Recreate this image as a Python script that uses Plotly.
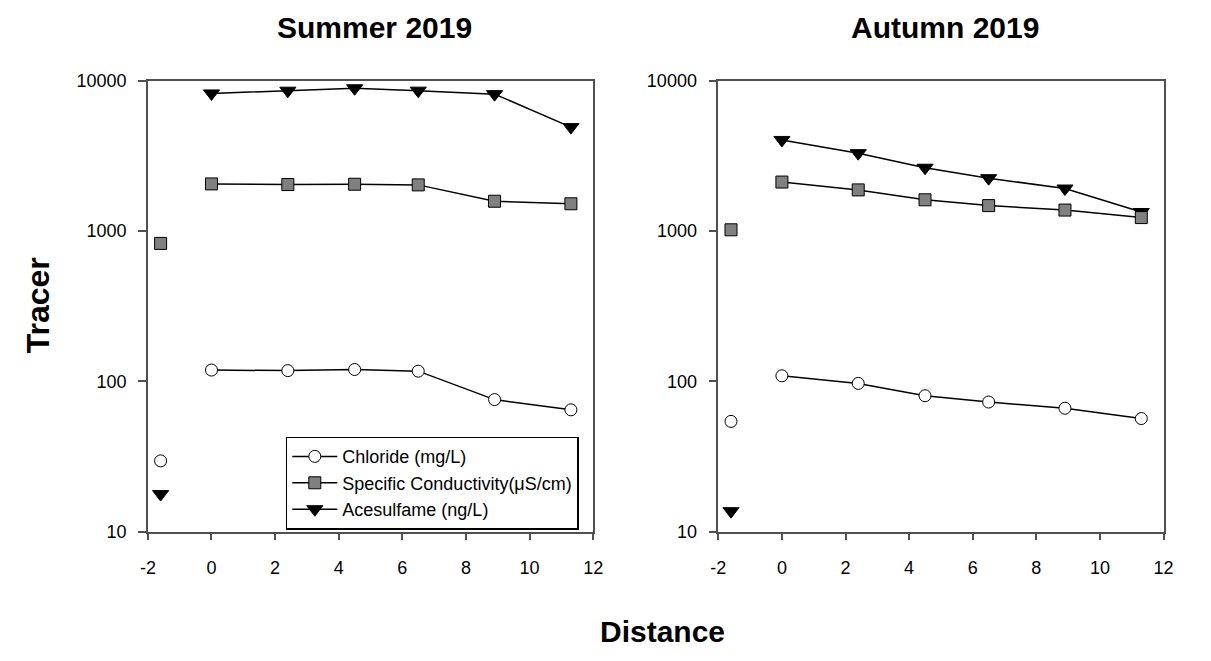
import plotly.graph_objects as go

W, H = 1211, 661

distance = [-1.6, 0, 2.4, 4.5, 6.5, 8.9, 11.3]

summer_chloride = [29.6, 119, 118, 120, 117, 75.7, 64.7]
summer_cond = [828, 2060, 2040, 2050, 2030, 1580, 1520]
summer_acesulfame = [17.8, 8240, 8590, 8920, 8600, 8150, 4920]

autumn_chloride = [54.2, 109, 97, 80.3, 72.9, 66.3, 56.6]
autumn_cond = [1020, 2120, 1880, 1615, 1478, 1380, 1230]
autumn_acesulfame = [13.7, 4040, 3300, 2640, 2250, 1920, 1340]

series_names = ["Chloride (mg/L)", "Specific Conductivity(\u03bcS/cm)", "Acesulfame (ng/L)"]
panel_titles = ["Summer 2019", "Autumn 2019"]
x_ticks = [-2, 0, 2, 4, 6, 8, 10, 12]
x_ticktext = ["-2", "0", "2", "4", "6", "8", "10", "12"]
y_ticks = [10, 100, 1000, 10000]
y_ticktext = ["10", "100", "1000", "10000"]

FONT = "Liberation Sans, Arial, sans-serif"


def split(xs, ys):
    # first point (background) is shown unconnected from the transect line
    return [xs[0], None] + xs[1:], [ys[0], None] + ys[1:]


styles = {
    "Chloride (mg/L)": dict(symbol="circle", size=12, color="white", rank=1),
    "Specific Conductivity(\u03bcS/cm)": dict(symbol="square", size=12, color="#808080", rank=2),
    "Acesulfame (ng/L)": dict(symbol="triangle-down", size=14, color="black", rank=3),
}

fig = go.Figure()

panels = [
    ("x", "y", [summer_chloride, summer_cond, summer_acesulfame], True),
    ("x2", "y2", [autumn_chloride, autumn_cond, autumn_acesulfame], False),
]

for xa, ya, data, show in panels:
    # draw acesulfame first so squares sit on top, as in the reference
    for name, ys in reversed(list(zip(series_names, data))):
        st = styles[name]
        px, py = split(distance, ys)
        fig.add_trace(go.Scatter(
            x=px, y=py, xaxis=xa, yaxis=ya, name=name,
            mode="lines+markers", connectgaps=False,
            line=dict(color="black", width=1.5),
            marker=dict(symbol=st["symbol"], size=st["size"], color=st["color"],
                        line=dict(color="black", width=1)),
            showlegend=show, legendrank=st["rank"],
        ))

left_dom = [142 / W, 594 / W]
right_dom = [721 / W, 1173 / W]
y_dom = [1 - 538 / H, 1 - 73 / H]

axis_common = dict(showline=True, linecolor="#505050", linewidth=1.5, mirror=True,
                   ticks="outside", tickcolor="#505050", tickwidth=1.5,
                   showgrid=False, zeroline=False,
                   tickfont=dict(family=FONT, size=18, color="black"))

xaxis_common = dict(axis_common, range=[-2, 12], tickmode="array", tickvals=x_ticks,
                    ticktext=x_ticktext, ticklen=7, ticklabelstandoff=12)
yaxis_common = dict(axis_common, type="log", range=[1, 4], tickmode="array",
                    tickvals=y_ticks, ticktext=y_ticktext, ticklen=8, ticklabelstandoff=8)

fig.update_layout(
    width=W, height=H,
    margin=dict(l=0, r=0, t=0, b=0),
    paper_bgcolor="white", plot_bgcolor="white",
    font=dict(family=FONT, color="black"),
    xaxis=dict(xaxis_common, domain=left_dom, anchor="y"),
    yaxis=dict(yaxis_common, domain=y_dom, anchor="x"),
    xaxis2=dict(xaxis_common, domain=right_dom, anchor="y2"),
    yaxis2=dict(yaxis_common, domain=y_dom, anchor="x2"),
    showlegend=True,
    legend=dict(x=282 / W, y=1 - 440 / H, xanchor="left", yanchor="top",
                bgcolor="white", bordercolor="black", borderwidth=1.5,
                font=dict(family=FONT, size=18, color="black"),
                itemwidth=45, traceorder="normal"),
    annotations=[
        dict(text="<b>%s</b>" % panel_titles[0], x=(left_dom[0] + left_dom[1]) / 2 + 4 / W,
             y=1 - 18 / H, xref="paper", yref="paper", showarrow=False,
             xanchor="center", yanchor="middle", font=dict(family=FONT, size=30)),
        dict(text="<b>%s</b>" % panel_titles[1], x=(right_dom[0] + right_dom[1]) / 2 + 4 / W,
             y=1 - 18 / H, xref="paper", yref="paper", showarrow=False,
             xanchor="center", yanchor="middle", font=dict(family=FONT, size=30)),
        dict(text="<b>Distance</b>", x=664 / W, y=1 - 641 / H, xref="paper", yref="paper",
             showarrow=False, xanchor="center", yanchor="middle", font=dict(family=FONT, size=30)),
        dict(text="<b>Tracer</b>", x=30 / W, y=1 - 305 / H, xref="paper", yref="paper",
             showarrow=False, xanchor="center", yanchor="middle", textangle=-90,
             font=dict(family=FONT, size=32)),
    ],
)

fig.write_html("out.html")
